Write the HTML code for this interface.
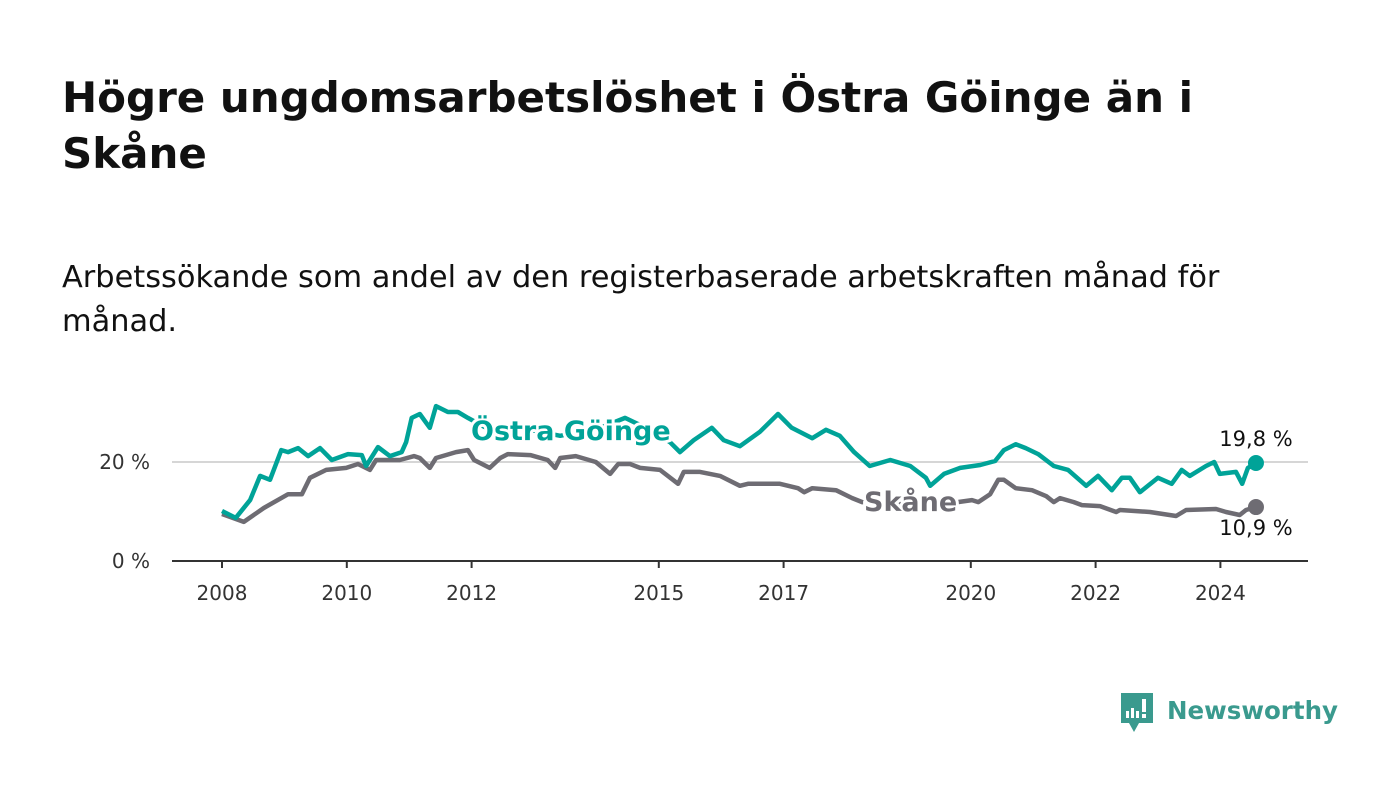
<!DOCTYPE html>
<html><head><meta charset="utf-8">
<style>
body{margin:0;background:#fff;width:1400px;height:794px;overflow:hidden;font-family:"DejaVu Sans",sans-serif;color:#111;}
#title{position:absolute;left:62px;top:70px;font-size:42px;font-weight:bold;line-height:56px;width:1300px;margin:0;white-space:nowrap;}
#subtitle{position:absolute;left:62px;top:256px;font-size:30.4px;line-height:44px;width:1300px;margin:0;white-space:nowrap;}
svg{position:absolute;left:0;top:0;}
</style></head><body>
<h1 id="title">Högre ungdomsarbetslöshet i Östra Göinge än i<br>Skåne</h1>
<p id="subtitle">Arbetssökande som andel av den registerbaserade arbetskraften månad för<br>månad.</p>
<svg id="chart" width="1400" height="794">
  <g>
    <path d="M1121 693 h32 v30 h-14 l-5 9 l-5 -9 h-8 z" fill="#3a9a8e"/>
    <rect x="1126" y="711" width="3" height="7" fill="#fff"/>
    <rect x="1131" y="708" width="3" height="10" fill="#fff"/>
    <rect x="1136" y="711" width="3" height="7" fill="#fff"/>
    <rect x="1142" y="699" width="4" height="13" fill="#fff"/>
    <rect x="1142" y="714" width="4" height="4" fill="#fff"/>
    <text x="1167" y="719" font-size="24.5" font-weight="bold" fill="#3a9a8e" font-family="DejaVu Sans, sans-serif">Newsworthy</text>
  </g>
</svg>
<script>
const yTicks=[0,20];
const yTickLabels=["0 %","20 %"];
const xTicks=[2008,2010,2012,2015,2017,2020,2022,2024];
const ostraDates=[2008.00,2008.22,2008.45,2008.61,2008.77,2008.95,2009.06,2009.22,2009.38,2009.57,2009.76,2010.02,2010.24,2010.31,2010.50,2010.69,2010.88,2010.95,2011.04,2011.17,2011.33,2011.43,2011.62,2011.78,2011.94,2012.29,2012.78,2013.42,2014.06,2014.46,2014.86,2015.18,2015.34,2015.56,2015.85,2016.04,2016.30,2016.62,2016.91,2017.13,2017.46,2017.68,2017.90,2018.13,2018.38,2018.71,2019.03,2019.28,2019.35,2019.57,2019.83,2020.15,2020.39,2020.53,2020.72,2020.88,2021.08,2021.33,2021.56,2021.85,2022.04,2022.26,2022.42,2022.55,2022.71,2023.00,2023.22,2023.38,2023.51,2023.77,2023.90,2023.99,2024.25,2024.35,2024.44,2024.57];
const ostraValues=[10.1,8.7,12.3,17.2,16.4,22.4,22.0,22.8,21.2,22.8,20.4,21.6,21.4,19.2,23.0,21.2,22.0,24.0,28.9,29.7,26.9,31.3,30.1,30.1,28.9,26.5,26.9,25.3,26.9,28.9,26.5,24.0,22.0,24.4,26.9,24.4,23.2,26.1,29.7,26.9,24.8,26.5,25.3,22.0,19.2,20.4,19.2,16.8,15.2,17.6,18.8,19.4,20.2,22.4,23.6,22.8,21.6,19.2,18.4,15.2,17.2,14.3,16.8,16.8,13.9,16.8,15.6,18.4,17.2,19.2,20.0,17.6,18.0,15.6,18.8,19.8];
const skaneDates=[2008.00,2008.35,2008.67,2009.06,2009.28,2009.41,2009.67,2009.99,2010.18,2010.37,2010.47,2010.85,2011.08,2011.17,2011.33,2011.43,2011.75,2011.94,2012.04,2012.29,2012.46,2012.58,2012.94,2013.22,2013.34,2013.42,2013.67,2013.99,2014.22,2014.35,2014.54,2014.70,2015.02,2015.31,2015.40,2015.66,2015.98,2016.30,2016.43,2016.94,2017.23,2017.33,2017.46,2017.84,2018.10,2018.26,2018.87,2019.35,2019.79,2020.02,2020.12,2020.31,2020.44,2020.53,2020.72,2020.98,2021.21,2021.33,2021.43,2021.65,2021.78,2022.07,2022.33,2022.39,2022.87,2023.29,2023.45,2023.93,2024.09,2024.31,2024.41,2024.57];
const skaneValues=[9.5,7.9,10.7,13.5,13.5,16.8,18.4,18.8,19.6,18.4,20.4,20.4,21.2,20.8,18.8,20.8,22.0,22.4,20.4,18.8,20.8,21.6,21.4,20.4,18.8,20.8,21.2,20.0,17.6,19.6,19.6,18.8,18.4,15.6,18.0,18.0,17.2,15.2,15.6,15.6,14.7,13.9,14.7,14.3,12.7,11.9,11.5,11.7,11.9,12.3,11.9,13.5,16.4,16.4,14.7,14.3,13.1,11.9,12.7,11.9,11.3,11.1,9.9,10.3,9.9,9.1,10.3,10.5,9.9,9.3,10.3,10.9];

const NS='http://www.w3.org/2000/svg';
const svg=document.getElementById('chart');
const xS=t=>222+(t-2008)*62.4;
const yS=v=>561-v*4.95;
function mk(tag,attrs,parent){const e=document.createElementNS(NS,tag);for(const k in attrs)e.setAttribute(k,attrs[k]);(parent||svg).appendChild(e);return e;}
const F='DejaVu Sans, sans-serif';
yTicks.forEach((v,i)=>{
  if(v!==0){const g=mk('line',{x1:172,x2:1308,y1:yS(v),y2:yS(v),stroke:'#d6d6d6','stroke-width':2});
  
  }
  const t=mk('text',{x:150,y:yS(v)+7,'text-anchor':'end','font-size':20,fill:'#333','font-family':F});
  t.textContent=yTickLabels[i];
  
  
});
const ax=mk('line',{x1:172,x2:1308,y1:561,y2:561,stroke:'#333','stroke-width':2});


xTicks.forEach(y=>{
  const tk=mk('line',{x1:xS(y),x2:xS(y),y1:561,y2:568,stroke:'#333','stroke-width':2});
  
  
  const t=mk('text',{x:xS(y),y:600,'text-anchor':'middle','font-size':20,fill:'#333','font-family':F});
  t.textContent=y;
  
  
});
function line(d,v,color,name){
  const p=mk('path',{d:d.map((t,i)=>(i?'L':'M')+xS(t).toFixed(1)+' '+yS(v[i]).toFixed(1)).join(''),fill:'none',stroke:color,'stroke-width':4.5,'stroke-linejoin':'round'});
  
  
  const c=mk('circle',{cx:xS(d[d.length-1]),cy:yS(v[v.length-1]),r:8,fill:color});
  
  
}
line(skaneDates,skaneValues,'#6e6c73','skane-line');
line(ostraDates,ostraValues,'#00a398','ostra-goinge-line');
function lab(x,y,txt,color,name,size,bold,anchor){
  const t=mk('text',{x:x,y:y,'font-size':size,'font-weight':bold?'bold':'normal',fill:color,'font-family':F,stroke:'#fff','stroke-width':bold?6:0,'paint-order':'stroke','text-anchor':anchor||'start'});
  t.textContent=txt;
  
  
}
lab(471,440,'Östra Göinge','#00a398','ostra-goinge-label',27,true);
lab(864,511,'Skåne','#6e6c73','skane-label',27,true);
lab(1256,446,'19,8 %','#111','ostra-goinge-end-value',21,false,'middle');
lab(1256,535,'10,9 %','#111','skane-end-value',21,false,'middle');
</script>
</body></html>
